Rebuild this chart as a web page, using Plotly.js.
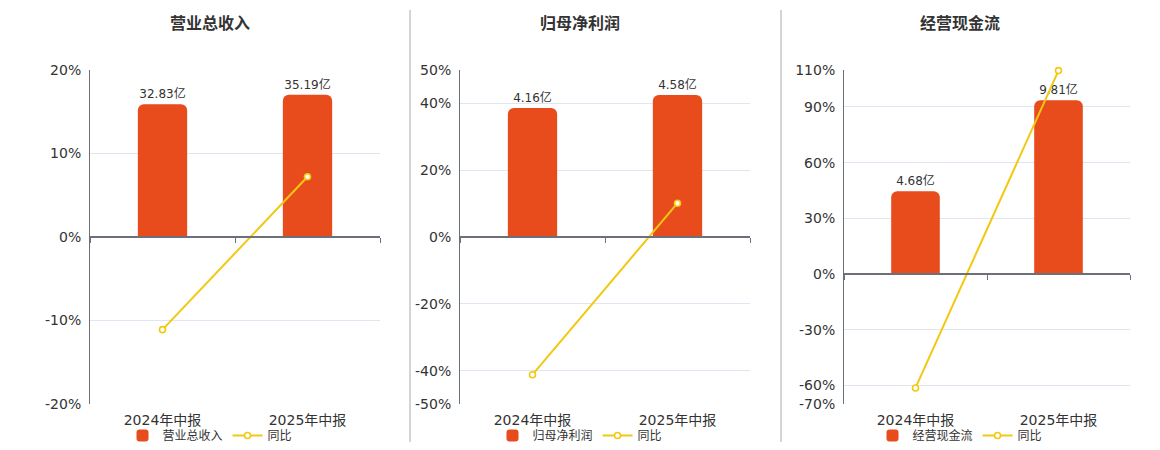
<!DOCTYPE html>
<html>
<head>
<meta charset="utf-8">
<script src="https://cdn.plot.ly/plotly-3.0.1.min.js"></script>
<style>html,body{margin:0;padding:0;background:#fff;}#chart{width:1160px;height:450px;}</style>
</head>
<body>
<div id="chart"></div>
<script>
// ---- data ----
const categories = ['2024年中报', '2025年中报'];
const titles = ['营业总收入', '归母净利润', '经营现金流'];
const yoyName = '同比';

const revenue = [32.83, 35.19];
const revenueYoy = [-11.09, 7.20];
const profit = [4.16, 4.58];
const profitYoy = [-41.2, 10.1];
const cashflow = [4.68, 9.81];
const cashflowYoy = [-61.3, 109.6];

const pctTicks1 = [-20, -10, 0, 10, 20];
const pctTicks2 = [-50, -40, -20, 0, 20, 40, 50];
const pctTicks3 = [-70, -60, -30, 0, 30, 60, 90, 110];

// ---- styles / layout helpers ----
const W = 1160, H = 450;
const BAR = '#e84b1c', GOLD = '#f2c811', AX = '#6e7079', GRID = '#e0e6f1', TXT = '#333333';
const FONT = 'DejaVu Sans, Noto Sans CJK SC, sans-serif';
const px = v => v / W;
const py = v => 1 - v / H;

const panels = [
  {bars: revenue, yoy: revenueYoy, ticks: pctTicks1, pct: [-20, 20], barR: [-41.35, 41.35], dom: [90, 380], c: 210},
  {bars: profit, yoy: profitYoy, ticks: pctTicks2, pct: [-50, 50], barR: [-5.39, 5.39], dom: [460, 750], c: 580},
  {bars: cashflow, yoy: cashflowYoy, ticks: pctTicks3, pct: [-70, 110], barR: [-7.32, 11.52], dom: [844, 1130], c: 960}
];

const yDom = [py(405), py(70)];
const data = [];
const layout = {
  width: W, height: H,
  margin: {l: 0, r: 0, t: 0, b: 0},
  paper_bgcolor: '#fff', plot_bgcolor: 'rgba(0,0,0,0)',
  font: {family: FONT, color: TXT, size: 12},
  showlegend: true,
  barcornerradius: 6,
  hovermode: false,
  annotations: [],
  shapes: []
};

panels.forEach((p, k) => {
  const i = k + 1, j = k + 4;
  const xs = 'x' + i, ys = 'y' + i, xo = 'x' + j, yo = 'y' + j;
  const lg = k === 0 ? 'legend' : 'legend' + i;
  const xd = [px(p.dom[0]), px(p.dom[1])];
  const zeroPos = yDom[0] + (0 - p.pct[0]) / (p.pct[1] - p.pct[0]) * (yDom[1] - yDom[0]);

  data.push({
    type: 'bar', x: categories, y: p.bars, xaxis: xs, yaxis: ys,
    name: titles[k], legend: lg, width: 0.34,
    marker: {color: BAR},
    text: p.bars.map(v => v.toFixed(2) + '亿'), textposition: 'outside',
    textfont: {family: FONT, size: 12, color: TXT}, cliponaxis: false
  });
  data.push({
    type: 'scatter', mode: 'lines+markers', x: categories, y: p.yoy, xaxis: xo, yaxis: yo,
    name: yoyName, legend: lg, cliponaxis: false,
    line: {color: GOLD, width: 2},
    marker: {symbol: 'circle', size: 6, color: '#ffffff', line: {color: GOLD, width: 1.6}}
  });

  layout['xaxis' + i] = {
    domain: xd, anchor: ys, type: 'category', range: [-0.5, 1.5],
    showline: false, ticks: '', showgrid: false, zeroline: false, fixedrange: true,
    ticklabelstandoff: 6,
    tickfont: {family: FONT, size: 14, color: TXT}
  };
  layout['yaxis' + i] = {
    domain: yDom, anchor: xs, range: p.barR, visible: false, fixedrange: true
  };
  layout['xaxis' + j] = {
    overlaying: xs, anchor: 'free', position: zeroPos, type: 'category', range: [-0.5, 1.5],
    tickson: 'boundaries', ticks: 'outside', ticklen: 5, tickcolor: AX, tickwidth: 1,
    showticklabels: false, showline: true, linecolor: AX, linewidth: 2,
    showgrid: false, zeroline: false, fixedrange: true
  };
  layout['yaxis' + j] = {
    overlaying: ys, anchor: xo, side: 'left', range: p.pct,
    tickmode: 'array', tickvals: p.ticks, ticktext: p.ticks.map(v => v + '%'),
    showline: true, linecolor: AX, linewidth: 1, ticks: '',
    showgrid: true, gridcolor: GRID, gridwidth: 1, zeroline: false,
    ticklabelstandoff: 5,
    tickfont: {family: FONT, size: 14, color: TXT}, fixedrange: true
  };
  layout[lg] = {
    orientation: 'h', x: px(p.c), xanchor: 'center', y: py(436), yanchor: 'middle',
    font: {family: FONT, size: 12, color: TXT}, bgcolor: 'rgba(0,0,0,0)',
    itemwidth: 30, tracegroupgap: 0
  };
  layout.annotations.push({
    text: '<b>' + titles[k] + '</b>', xref: 'paper', yref: 'paper',
    x: px(p.c), y: py(22), xanchor: 'center', yanchor: 'middle', showarrow: false,
    font: {family: 'Noto Sans CJK SC, sans-serif', size: 16, color: TXT}
  });
});

[410, 781].forEach(xv => {
  layout.shapes.push({type: 'line', xref: 'paper', yref: 'paper', x0: px(xv), x1: px(xv), y0: py(10), y1: py(443),
    line: {color: '#aaaaaa', width: 1}});
});

Plotly.newPlot('chart', data, layout, {displayModeBar: false, staticPlot: true});
</script>
</body>
</html>
